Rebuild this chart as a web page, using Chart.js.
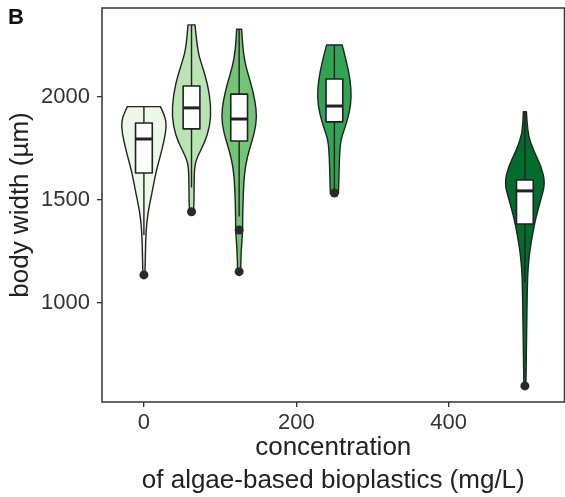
<!DOCTYPE html>
<html>
<head>
<meta charset="utf-8">
<script src="https://cdn.jsdelivr.net/npm/chart.js@4.4.0/dist/chart.umd.min.js"></script>
<style>
  html, body { margin: 0; padding: 0; background: #fff; overflow: hidden; }
  #wrap { width: 569px; height: 497px; position: relative; }
</style>
</head>
<body>
<div id="wrap"><canvas id="myChart"></canvas></div>
<script>
// concentrations (mg/L) and fill per group
const doses = [0, 62.5, 125, 250, 500];
const fills = ['#edf8e9', '#bae4b3', '#74c476', '#31a354', '#006d2c'];

// violin outlines: body width levels (µm) and half width (in mg/L axis units)
const violinY = [
  [1953, 1904, 1856, 1791, 1710, 1630, 1532, 1435, 1338, 1242, 1136],
  [2350, 2228, 2147, 2066, 1953, 1856, 1775, 1710, 1662, 1565, 1500, 1443],
  [2329, 2228, 2147, 2066, 1985, 1904, 1824, 1743, 1662, 1565, 1419, 1338, 1257, 1152],
  [2252, 2164, 2083, 2002, 1921, 1840, 1791, 1710, 1597, 1532],
  [1929, 1824, 1743, 1662, 1581, 1500, 1419, 1338, 1257, 1176, 1096, 934, 772, 597]
];
const violinW = [
  [21.7, 28, 29.6, 26.7, 21.3, 15.4, 10.5, 5, 2.6, 2, 1.3],
  [4.6, 7.6, 14.2, 21, 25.7, 24.1, 16.8, 7.6, 3.9, 3.3, 3.3, 2.6],
  [3.3, 4.9, 8.8, 15.4, 20.7, 23.3, 20.1, 13.2, 7.9, 5.7, 4.6, 4.6, 2.6, 2],
  [10.3, 16.4, 20.8, 22.4, 19.7, 12.9, 8.3, 6.6, 5.9, 5.3],
  [2, 3.3, 10.9, 21.7, 26.7, 20.8, 14.7, 10.3, 6.6, 4.3, 3.3, 2.6, 2, 1.3]
];

// box plot statistics
const q1 = [1631, 1845, 1786, 1879, 1383];
const median = [1796, 1947, 1893, 1956, 1544];
const q3 = [1874, 2053, 2014, 2087, 1597];
const whiskLo = [1330, 1560, 1420, 1534, 1100];
const whiskHi = [1952, 2350, 2329, 2252, 1927];

// outliers
const outX = [0, 62.5, 125, 125, 250, 500];
const outY = [1136, 1443, 1354, 1152, 1534, 597];

const xTicks = [0, 200, 400];
const yTicks = [1000, 1500, 2000];

const FONT = '"Liberation Sans", Arial, sans-serif';
const BOX_HALF = 11;

function smoothSide(ctx, pts, first) {
  if (first) ctx.moveTo(pts[0][0], pts[0][1]); else ctx.lineTo(pts[0][0], pts[0][1]);
  for (let k = 1; k < pts.length - 1; k++) {
    const mx = (pts[k][0] + pts[k + 1][0]) / 2, my = (pts[k][1] + pts[k + 1][1]) / 2;
    ctx.quadraticCurveTo(pts[k][0], pts[k][1], mx, my);
  }
  const last = pts[pts.length - 1];
  ctx.lineTo(last[0], last[1]);
}

const violinPlugin = {
  id: 'violins',
  beforeDatasetsDraw(chart) {
    const { ctx, scales: { x, y } } = chart;
    ctx.save();
    ctx.lineJoin = 'round';
    doses.forEach((d, i) => {
      const ys = violinY[i], ws = violinW[i];
      const right = ys.map((v, k) => [x.getPixelForValue(d + ws[k]), y.getPixelForValue(v)]);
      const left = ys.map((v, k) => [x.getPixelForValue(d - ws[k]), y.getPixelForValue(v)]).reverse();
      ctx.beginPath();
      smoothSide(ctx, right, true);
      smoothSide(ctx, left, false);
      ctx.closePath();
      ctx.fillStyle = fills[i];
      ctx.fill();
      ctx.strokeStyle = '#222';
      ctx.lineWidth = 1.4;
      ctx.stroke();

      // whiskers
      const cx = x.getPixelForValue(d);
      ctx.beginPath();
      ctx.moveTo(cx, y.getPixelForValue(whiskHi[i]));
      ctx.lineTo(cx, y.getPixelForValue(q3[i]));
      ctx.moveTo(cx, y.getPixelForValue(q1[i]));
      ctx.lineTo(cx, y.getPixelForValue(whiskLo[i]));
      ctx.lineWidth = 1.4;
      ctx.strokeStyle = '#222';
      ctx.stroke();

      // box
      const bl = x.getPixelForValue(d - BOX_HALF), br = x.getPixelForValue(d + BOX_HALF);
      const bt = y.getPixelForValue(q3[i]), bb = y.getPixelForValue(q1[i]);
      ctx.fillStyle = '#fff';
      ctx.fillRect(bl, bt, br - bl, bb - bt);
      ctx.lineWidth = 1.6;
      ctx.strokeRect(bl, bt, br - bl, bb - bt);
      const my = y.getPixelForValue(median[i]);
      ctx.beginPath();
      ctx.moveTo(bl, my);
      ctx.lineTo(br, my);
      ctx.lineWidth = 3;
      ctx.stroke();
    });
    ctx.restore();
  },
  afterDraw(chart) {
    const { ctx, chartArea: a } = chart;
    ctx.save();
    ctx.strokeStyle = '#333';
    ctx.lineWidth = 1.5;
    ctx.strokeRect(a.left, a.top, a.right - a.left, a.bottom - a.top);
    ctx.fillStyle = '#111';
    ctx.font = 'bold 22px ' + FONT;
    ctx.textBaseline = 'top';
    ctx.fillText('B', 8, 7);
    ctx.restore();
  }
};

new Chart(document.getElementById('myChart'), {
  type: 'scatter',
  data: {
    datasets: [{
      label: 'outliers',
      data: outX.map((v, i) => ({ x: v, y: outY[i] })),
      pointRadius: 4.5,
      pointHoverRadius: 4.5,
      pointBackgroundColor: '#2a2a2a',
      pointBorderColor: '#2a2a2a',
      pointBorderWidth: 0
    }]
  },
  options: {
    responsive: true,
    maintainAspectRatio: false,
    animation: false,
    layout: { padding: { top: 8, right: 0, left: 0, bottom: 0 } },
    plugins: { legend: { display: false }, tooltip: { enabled: false } },
    scales: {
      x: {
        type: 'linear',
        min: -55,
        max: 552,
        afterBuildTicks: s => { s.ticks = xTicks.map(v => ({ value: v })); },
        afterFit: s => { s.height = 95; s.paddingLeft = 0; s.paddingRight = 0; },
        border: { display: false },
        grid: { drawOnChartArea: false, drawTicks: true, tickLength: 5, color: '#333', lineWidth: 1.3 },
        ticks: { color: '#333', padding: 3, font: { family: FONT, size: 22 }, callback: v => String(v) },
        title: {
          display: true,
          text: ['concentration', 'of algae-based bioplastics (mg/L)'],
          color: '#222',
          font: { family: FONT, size: 26, lineHeight: 1.27 },
          padding: { top: 0, bottom: 0 }
        }
      },
      y: {
        type: 'linear',
        min: 519,
        max: 2432,
        afterBuildTicks: s => { s.ticks = yTicks.map(v => ({ value: v })); },
        afterFit: s => { s.width = 102; s.paddingTop = 0; s.paddingBottom = 0; },
        border: { display: false },
        grid: { drawOnChartArea: false, drawTicks: true, tickLength: 5, color: '#333', lineWidth: 1.3 },
        ticks: { color: '#333', padding: 7, font: { family: FONT, size: 22 }, callback: v => String(v) },
        title: {
          display: true,
          text: 'body width (µm)',
          color: '#222',
          font: { family: FONT, size: 26, lineHeight: 1.2 },
          padding: { top: 5, bottom: 0 }
        }
      }
    }
  },
  plugins: [violinPlugin]
});
</script>
</body>
</html>
